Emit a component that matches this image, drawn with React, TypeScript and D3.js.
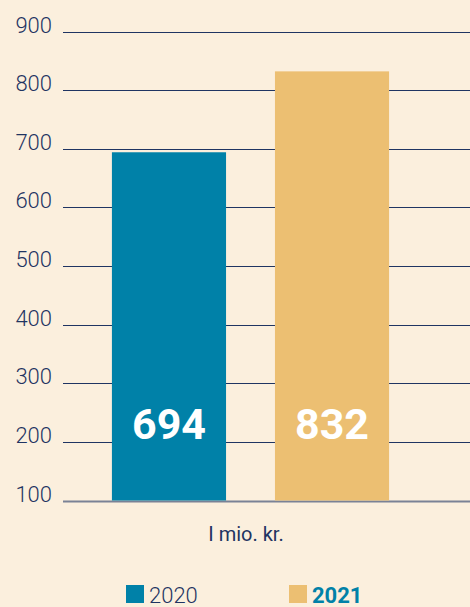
import * as d3 from "d3";
import { useEffect, useRef } from "react";

const years = ["2020", "2021"];
const values = [694, 832];
const yTicks = [100, 200, 300, 400, 500, 600, 700, 800, 900];
const unitLabel = "I mio. kr.";

const colors = ["#0081a8", "#ecbf72"];
const navy = "#1f3462";
const bg = "#fbefdd";
const font = "Roboto, 'DejaVu Sans', sans-serif";

export default function App() {
  const ref = useRef<SVGSVGElement>(null);

  useEffect(() => {
    if (!ref.current) return;
    const svg = d3.select(ref.current);
    svg.selectAll("*").remove();

    const width = 470;
    const height = 607;

    svg.append("rect").attr("width", width).attr("height", height).attr("fill", bg);

    const y = d3.scaleLinear().domain([100, 900]).range([500.5, 31.5]);
    const x = d3
      .scaleBand()
      .domain(years)
      .range([63, 438])
      .paddingInner(0.3)
      .paddingOuter(0.3);

    // gridlines
    svg
      .append("g")
      .selectAll("line")
      .data(yTicks)
      .enter()
      .append("line")
      .attr("x1", 63)
      .attr("x2", width)
      .attr("y1", (d) => Math.round(y(d)) + 0.5)
      .attr("y2", (d) => Math.round(y(d)) + 0.5)
      .attr("stroke", (d) => (d === 100 ? "#7a8296" : navy))
      .attr("stroke-width", (d) => (d === 100 ? 2 : 1));

    // tick labels
    svg
      .append("g")
      .selectAll("text")
      .data(yTicks)
      .enter()
      .append("text")
      .attr("x", 52)
      .attr("y", (d) => y(d) + 1)
      .attr("text-anchor", "end")
      .attr("font-family", font)
      .attr("font-size", 22)
      .attr("font-weight", 300)
      .attr("fill", navy)
      .text((d) => d);

    // bars
    svg
      .append("g")
      .selectAll("rect")
      .data(values)
      .enter()
      .append("rect")
      .attr("x", (_, i) => x(years[i])!)
      .attr("y", (d) => y(d))
      .attr("width", x.bandwidth())
      .attr("height", (d) => y(100) - y(d))
      .attr("fill", (_, i) => colors[i]);

    // value labels
    svg
      .append("g")
      .selectAll("text")
      .data(values)
      .enter()
      .append("text")
      .attr("x", (_, i) => x(years[i])! + x.bandwidth() / 2)
      .attr("y", 439)
      .attr("text-anchor", "middle")
      .attr("font-family", font)
      .attr("font-weight", 700)
      .attr("font-size", 43)
      .attr("fill", "#ffffff")
      .text((d) => d);

    svg
      .append("text")
      .attr("x", 246)
      .attr("y", 541)
      .attr("text-anchor", "middle")
      .attr("font-family", font)
      .attr("font-size", 20)
      .attr("fill", navy)
      .text(unitLabel);

    // legend
    const legendX = [126, 289];
    years.forEach((yr, i) => {
      svg
        .append("rect")
        .attr("x", legendX[i])
        .attr("y", 585)
        .attr("width", 18)
        .attr("height", 18)
        .attr("fill", colors[i]);
      svg
        .append("text")
        .attr("x", legendX[i] + 23)
        .attr("y", 603)
        .attr("font-family", font)
        .attr("font-size", 22)
        .attr("font-weight", i === 1 ? 700 : 300)
        .attr("fill", i === 1 ? colors[0] : navy)
        .text(yr);
    });
  }, []);

  return (
    <svg
      ref={ref}
      width={470}
      height={607}
      style={{ position: "absolute", top: 0, left: 0, display: "block" }}
    ></svg>
  );
}
